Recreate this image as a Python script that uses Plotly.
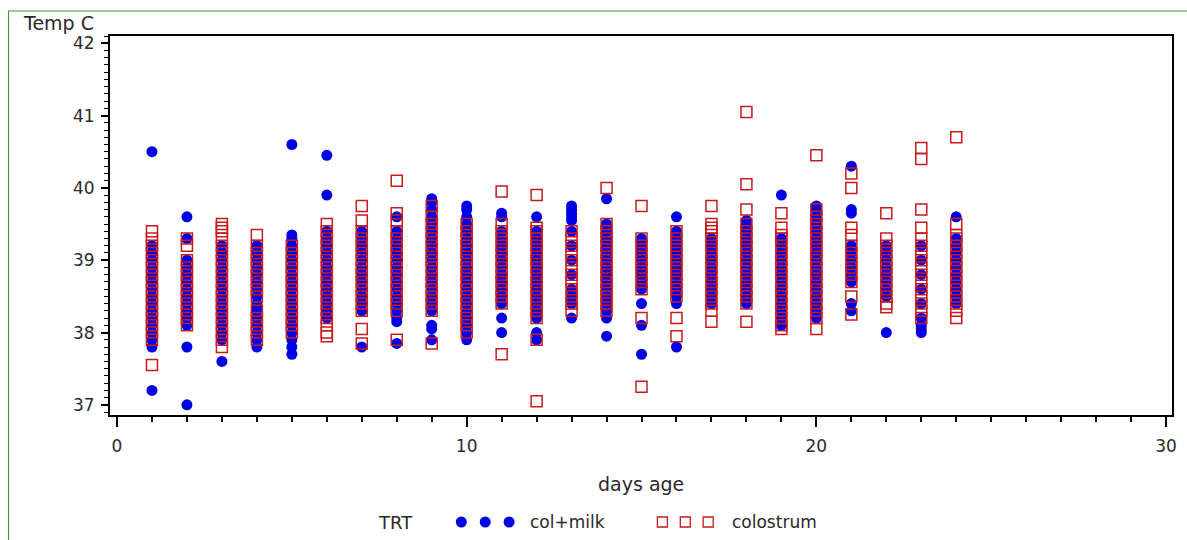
import plotly.graph_objects as go

# ---- data ----
days = [1, 2, 3, 4, 5, 6, 7, 8, 9, 10, 11, 12, 13, 14, 15, 16, 17, 18, 19, 20, 21, 22, 23, 24]

colmilk_temps = [
    [40.5, 39.2, 39.1, 39.0, 38.9, 38.8, 38.7, 38.6, 38.5, 38.4, 38.3, 38.2, 38.1, 38.0, 37.9, 37.8, 37.2],
    [39.6, 39.3, 39.0, 38.9, 38.8, 38.7, 38.6, 38.5, 38.4, 38.3, 38.2, 38.1, 37.8, 37.0],
    [39.2, 39.1, 39.0, 38.9, 38.8, 38.7, 38.6, 38.5, 38.4, 38.3, 38.2, 38.1, 38.0, 37.9, 37.6],
    [39.2, 39.1, 39.0, 38.9, 38.8, 38.7, 38.6, 38.5, 38.4, 38.35, 38.3, 38.2, 38.1, 38.0, 37.9, 37.8],
    [40.6, 39.35, 39.3, 39.2, 39.1, 39.0, 38.9, 38.8, 38.7, 38.6, 38.5, 38.4, 38.3, 38.2, 38.1, 38.0, 37.9, 37.8, 37.7],
    [40.45, 39.9, 39.4, 39.3, 39.2, 39.1, 39.0, 38.9, 38.8, 38.7, 38.6, 38.5, 38.4, 38.3, 38.2],
    [39.4, 39.3, 39.2, 39.1, 39.0, 38.9, 38.8, 38.7, 38.6, 38.5, 38.4, 38.3, 37.8],
    [39.6, 39.4, 39.3, 39.2, 39.1, 39.0, 38.9, 38.8, 38.7, 38.6, 38.5, 38.4, 38.3, 38.2, 38.15, 37.85],
    [39.85, 39.8, 39.7, 39.6, 39.5, 39.4, 39.3, 39.2, 39.1, 39.0, 38.9, 38.8, 38.7, 38.6, 38.5, 38.4, 38.3, 38.1, 38.05, 37.9],
    [39.75, 39.7, 39.6, 39.5, 39.4, 39.3, 39.2, 39.1, 39.0, 38.9, 38.8, 38.7, 38.6, 38.5, 38.4, 38.3, 38.2, 38.1, 38.0, 37.9],
    [39.65, 39.6, 39.4, 39.3, 39.2, 39.1, 39.0, 38.9, 38.8, 38.7, 38.6, 38.5, 38.4, 38.2, 38.0],
    [39.6, 39.4, 39.3, 39.2, 39.1, 39.0, 38.9, 38.8, 38.7, 38.6, 38.5, 38.4, 38.3, 38.2, 38.0, 37.9],
    [39.75, 39.7, 39.65, 39.6, 39.55, 39.4, 39.2, 39.0, 38.8, 38.6, 38.5, 38.4, 38.2],
    [39.85, 39.5, 39.4, 39.3, 39.2, 39.1, 39.0, 38.9, 38.8, 38.7, 38.6, 38.5, 38.4, 38.3, 38.2, 37.95],
    [39.3, 39.2, 39.1, 39.0, 38.9, 38.8, 38.7, 38.6, 38.4, 38.1, 37.7],
    [39.6, 39.4, 39.3, 39.2, 39.1, 39.0, 38.9, 38.8, 38.7, 38.6, 38.5, 38.4, 37.8],
    [39.3, 39.2, 39.1, 39.0, 38.9, 38.8, 38.7, 38.6, 38.5, 38.4],
    [39.55, 39.5, 39.4, 39.3, 39.2, 39.1, 39.0, 38.9, 38.8, 38.7, 38.6, 38.5, 38.4],
    [39.9, 39.3, 39.2, 39.1, 39.0, 38.9, 38.8, 38.7, 38.6, 38.5, 38.4, 38.3, 38.2, 38.1],
    [39.75, 39.7, 39.6, 39.5, 39.4, 39.3, 39.2, 39.1, 39.0, 38.9, 38.8, 38.7, 38.6, 38.5, 38.4, 38.3, 38.2],
    [40.3, 39.7, 39.65, 39.2, 39.1, 39.0, 38.9, 38.8, 38.7, 38.4, 38.3],
    [39.2, 39.1, 39.0, 38.9, 38.8, 38.7, 38.6, 38.5, 38.0],
    [39.2, 39.0, 38.8, 38.6, 38.4, 38.2, 38.1, 38.05, 38.0],
    [39.6, 39.3, 39.2, 39.1, 39.0, 38.9, 38.8, 38.7, 38.6, 38.5, 38.4],
]

colostrum_temps = [
    [39.4, 39.3, 39.2, 39.1, 39.0, 38.9, 38.8, 38.7, 38.6, 38.5, 38.4, 38.3, 38.2, 38.1, 38.0, 37.9, 37.55],
    [39.3, 39.2, 39.0, 38.9, 38.8, 38.7, 38.6, 38.5, 38.4, 38.3, 38.2, 38.1],
    [39.5, 39.45, 39.4, 39.3, 39.2, 39.1, 39.0, 38.9, 38.8, 38.7, 38.6, 38.5, 38.4, 38.3, 38.2, 38.1, 38.0, 37.9, 37.8],
    [39.35, 39.2, 39.1, 39.0, 38.9, 38.8, 38.7, 38.6, 38.5, 38.3, 38.2, 38.1, 38.0, 37.9],
    [39.2, 39.1, 39.0, 38.9, 38.8, 38.7, 38.6, 38.5, 38.4, 38.3, 38.2, 38.1, 38.0],
    [39.5, 39.4, 39.3, 39.2, 39.1, 39.0, 38.9, 38.8, 38.7, 38.6, 38.5, 38.4, 38.3, 38.2, 38.1, 38.0, 37.95],
    [39.75, 39.55, 39.4, 39.3, 39.2, 39.1, 39.0, 38.9, 38.8, 38.7, 38.6, 38.5, 38.4, 38.3, 38.05, 37.85],
    [40.1, 39.65, 39.55, 39.4, 39.3, 39.2, 39.1, 39.0, 38.9, 38.8, 38.7, 38.6, 38.5, 38.4, 38.3, 37.9],
    [39.75, 39.6, 39.5, 39.4, 39.3, 39.2, 39.1, 39.0, 38.9, 38.8, 38.7, 38.6, 38.5, 38.4, 38.3, 37.85],
    [39.5, 39.4, 39.3, 39.2, 39.1, 39.0, 38.9, 38.8, 38.7, 38.6, 38.5, 38.4, 38.3, 38.2, 38.1, 38.0],
    [39.95, 39.5, 39.4, 39.3, 39.2, 39.1, 39.0, 38.9, 38.8, 38.7, 38.6, 38.5, 38.4, 37.7],
    [39.9, 39.45, 39.4, 39.3, 39.2, 39.1, 39.0, 38.9, 38.8, 38.7, 38.6, 38.5, 38.4, 38.3, 38.2, 37.9, 37.05],
    [39.4, 39.3, 39.2, 39.1, 39.0, 38.9, 38.8, 38.7, 38.6, 38.5, 38.4, 38.3],
    [40.0, 39.5, 39.4, 39.3, 39.2, 39.1, 39.0, 38.9, 38.8, 38.7, 38.6, 38.5, 38.4, 38.3],
    [39.75, 39.3, 39.2, 39.1, 39.0, 38.9, 38.8, 38.7, 38.6, 38.2, 37.25],
    [39.4, 39.3, 39.2, 39.1, 39.0, 38.9, 38.8, 38.7, 38.6, 38.5, 38.2, 37.95],
    [39.75, 39.5, 39.45, 39.4, 39.3, 39.2, 39.1, 39.0, 38.9, 38.8, 38.7, 38.6, 38.5, 38.4, 38.3, 38.15],
    [41.05, 40.05, 39.7, 39.5, 39.4, 39.3, 39.2, 39.1, 39.0, 38.9, 38.8, 38.7, 38.6, 38.5, 38.4, 38.15],
    [39.65, 39.45, 39.35, 39.3, 39.2, 39.1, 39.0, 38.9, 38.8, 38.7, 38.6, 38.5, 38.4, 38.3, 38.2, 38.1, 38.05],
    [40.45, 39.7, 39.6, 39.5, 39.4, 39.3, 39.2, 39.1, 39.0, 38.9, 38.8, 38.7, 38.6, 38.5, 38.4, 38.3, 38.2, 38.05],
    [40.2, 40.0, 39.45, 39.35, 39.2, 39.1, 39.0, 38.9, 38.8, 38.7, 38.5, 38.25],
    [39.65, 39.3, 39.2, 39.1, 39.0, 38.9, 38.8, 38.7, 38.6, 38.5, 38.4, 38.35],
    [40.55, 40.4, 39.7, 39.45, 39.3, 39.2, 39.1, 39.0, 38.9, 38.8, 38.7, 38.6, 38.5, 38.4, 38.3, 38.2],
    [40.7, 39.5, 39.35, 39.3, 39.2, 39.1, 39.0, 38.9, 38.8, 38.7, 38.6, 38.5, 38.4, 38.3, 38.2],
]

x_ticks = [0, 10, 20, 30]
y_ticks = [37, 38, 39, 40, 41, 42]
series_names = ["col+milk", "colostrum"]
legend_title = "TRT"
x_title = "days age"
y_title = "Temp C"

BLUE = "#0000e6"
RED = "#c81a1a"
FONT = "DejaVu Sans"
TXT = "#2a2a2a"


def flatten(temps):
    xs, ys = [], []
    for d, vals in zip(days, temps):
        for v in vals:
            xs.append(d)
            ys.append(v)
    return xs, ys


cx, cy = flatten(colmilk_temps)
sx, sy = flatten(colostrum_temps)

fig = go.Figure()
fig.add_trace(go.Scatter(
    x=cx, y=cy, mode="markers", name=series_names[0],
    marker=dict(symbol="circle", size=11, color=BLUE, line=dict(width=0)),
))
fig.add_trace(go.Scatter(
    x=sx, y=sy, mode="markers", name=series_names[1],
    marker=dict(symbol="square-open", size=11, color=RED, line=dict(width=1.5, color=RED)),
))

# plot area in pixels: x 110..1177, y 36..415
L, R, T, B = 110, 10, 36, 125
W, H = 1187, 540
pw = W - L - R
ph = H - T - B


def px(xp):
    return (xp - L) / pw


def py(yp):
    return (T + ph - yp) / ph


fig.update_layout(
    width=W, height=H,
    margin=dict(l=L, r=R, t=T, b=B, pad=0),
    paper_bgcolor="white", plot_bgcolor="white",
    showlegend=False,
    font=dict(family=FONT, color=TXT, size=17),
)

fig.update_xaxes(
    range=[-0.2, 30.17], tickvals=x_ticks, ticktext=[str(v) for v in x_ticks],
    showgrid=False, zeroline=False,
    showline=True, linecolor="black", linewidth=2, mirror=True,
    ticks="outside", ticklen=10, tickwidth=1.5, tickcolor="black",
    tickfont=dict(family=FONT, size=17, color=TXT),
    ticklabelstandoff=5,
    minor=dict(dtick=1, tick0=0, ticks="outside", ticklen=5, tickwidth=1.5, tickcolor="black", showgrid=False),
)
fig.update_yaxes(
    range=[36.86, 42.1], tickvals=y_ticks, ticktext=[str(v) for v in y_ticks],
    showgrid=False, zeroline=False,
    showline=True, linecolor="black", linewidth=2, mirror=True,
    ticks="outside", ticklen=7, tickwidth=1.5, tickcolor="black",
    tickfont=dict(family=FONT, size=17, color=TXT),
    ticklabelstandoff=3,
    minor=dict(dtick=0.1, tick0=37, ticks="outside", ticklen=4, tickwidth=1.2, tickcolor="black", showgrid=False),
)

ann = []
ann.append(dict(text=y_title, x=px(21), y=py(23), xref="paper", yref="paper",
                xanchor="left", yanchor="middle", showarrow=False,
                font=dict(family=FONT, size=19, color=TXT)))
ann.append(dict(text=x_title, x=px(643), y=py(484), xref="paper", yref="paper",
                xanchor="center", yanchor="middle", showarrow=False,
                font=dict(family=FONT, size=19, color=TXT)))
ann.append(dict(text=legend_title, x=px(397), y=py(522), xref="paper", yref="paper",
                xanchor="center", yanchor="middle", showarrow=False,
                font=dict(family=FONT, size=18, color=TXT)))
ann.append(dict(text=series_names[0], x=px(530), y=py(522), xref="paper", yref="paper",
                xanchor="left", yanchor="middle", showarrow=False,
                font=dict(family=FONT, size=17, color=TXT)))
ann.append(dict(text=series_names[1], x=px(733), y=py(522), xref="paper", yref="paper",
                xanchor="left", yanchor="middle", showarrow=False,
                font=dict(family=FONT, size=17, color=TXT)))
fig.update_layout(annotations=ann)

shapes = []
# green outer frame (left and top edges visible)
shapes.append(dict(type="line", xref="paper", yref="paper", x0=px(8), x1=px(8), y0=py(11), y1=py(560),
                   line=dict(color="#3c8c3c", width=1)))
shapes.append(dict(type="line", xref="paper", yref="paper", x0=px(8), x1=px(1200), y0=py(11), y1=py(11),
                   line=dict(color="#3c8c3c", width=1)))
# legend glyphs
for cxp in (463, 487, 511):
    shapes.append(dict(type="circle", xref="paper", yref="paper", xsizemode="pixel", ysizemode="pixel",
                       xanchor=px(cxp), yanchor=py(522), x0=-5.5, x1=5.5, y0=-5.5, y1=5.5,
                       fillcolor=BLUE, line=dict(width=0)))
for sxp in (665, 688, 711):
    shapes.append(dict(type="rect", xref="paper", yref="paper", xsizemode="pixel", ysizemode="pixel",
                       xanchor=px(sxp), yanchor=py(522), x0=-5, x1=5, y0=-5, y1=5,
                       fillcolor="rgba(0,0,0,0)", line=dict(color=RED, width=1.3)))
fig.update_layout(shapes=shapes)

fig.write_html("out.html", config={"displayModeBar": False},
               post_script="document.body.style.margin='0';document.body.style.overflow='hidden';")
